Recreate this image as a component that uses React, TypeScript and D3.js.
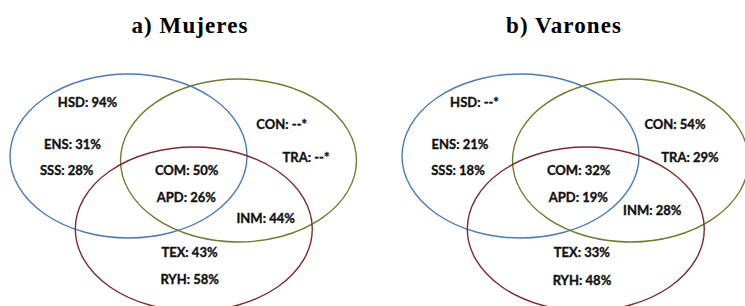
import * as d3 from "d3";

// categories and values
const codes = ["HSD", "ENS", "SSS", "COM", "APD", "CON", "TRA", "INM", "TEX", "RYH"];
const mujeres = ["94%", "31%", "28%", "50%", "26%", "--*", "--*", "44%", "43%", "58%"];
const varones = ["--*", "21%", "18%", "32%", "19%", "54%", "29%", "28%", "33%", "48%"];
const titles = ["a) Mujeres", "b) Varones"];

// layout (panel-local pixels)
const W = 745;
const H = 306;
const panelOffsets = [0, 392];
const titleX = [190, 172];
const ellipses = [
  { cx: 128.5, cy: 156, rx: 118.5, ry: 82, color: "#4a7bb7" },
  { cx: 238.5, cy: 160.5, rx: 118, ry: 81.5, color: "#6b7d2e" },
  { cx: 193.8, cy: 229, rx: 118.5, ry: 82, color: "#7b2c2e" },
];
const labelPos = [
  [[87.5, 102], [72.5, 144], [66.7, 170], [186.7, 170], [186.3, 197], [281.7, 124], [306, 157], [265.7, 218], [189.5, 252], [189.7, 279]],
  [[82.5, 102], [68, 144], [66, 170], [186.7, 170], [186.3, 197], [283, 124], [298, 157], [260.3, 210], [189.8, 252], [190, 280]],
];

const panelValues = [mujeres, varones];

function Venn({ idx }: { idx: number }) {
  const x0 = panelOffsets[idx];
  const x = d3.scaleLinear().domain([0, 372]).range([x0, x0 + 372]);
  const y = d3.scaleLinear().domain([0, H]).range([0, H]);
  const values = panelValues[idx];
  return (
    <g>
      <text
        x={x(titleX[idx])}
        y={y(33)}
        textAnchor="middle"
        fontFamily="'Liberation Serif', 'DejaVu Serif', serif"
        fontWeight="bold"
        fontSize={23}
        letterSpacing={1.1}
        fill="#000"
      >
        {titles[idx]}
      </text>
      {ellipses.map((e, i) => (
        <ellipse
          key={i}
          cx={x(e.cx)}
          cy={y(e.cy)}
          rx={e.rx}
          ry={e.ry}
          fill="none"
          stroke={e.color}
          strokeWidth={1.4}
        />
      ))}
      {codes.map((c, i) => (
        <text
          key={c}
          x={x(labelPos[idx][i][0])}
          y={y(labelPos[idx][i][1])}
          textAnchor="middle"
          dominantBaseline="central"
          fontFamily="Lato, 'Open Sans', sans-serif"
          fontWeight="bold"
          fontSize={13}
          fill="#111"
          stroke="#111"
          strokeWidth={0.35}
        >
          {`${c}: ${values[i]}`}
        </text>
      ))}
    </g>
  );
}

export default function App() {
  return (
    <svg
      width={W}
      height={H}
      style={{ position: "absolute", left: 0, top: 0, background: "#fff" }}
    >
      {titles.map((_, i) => (
        <Venn key={i} idx={i} />
      ))}
    </svg>
  );
}
